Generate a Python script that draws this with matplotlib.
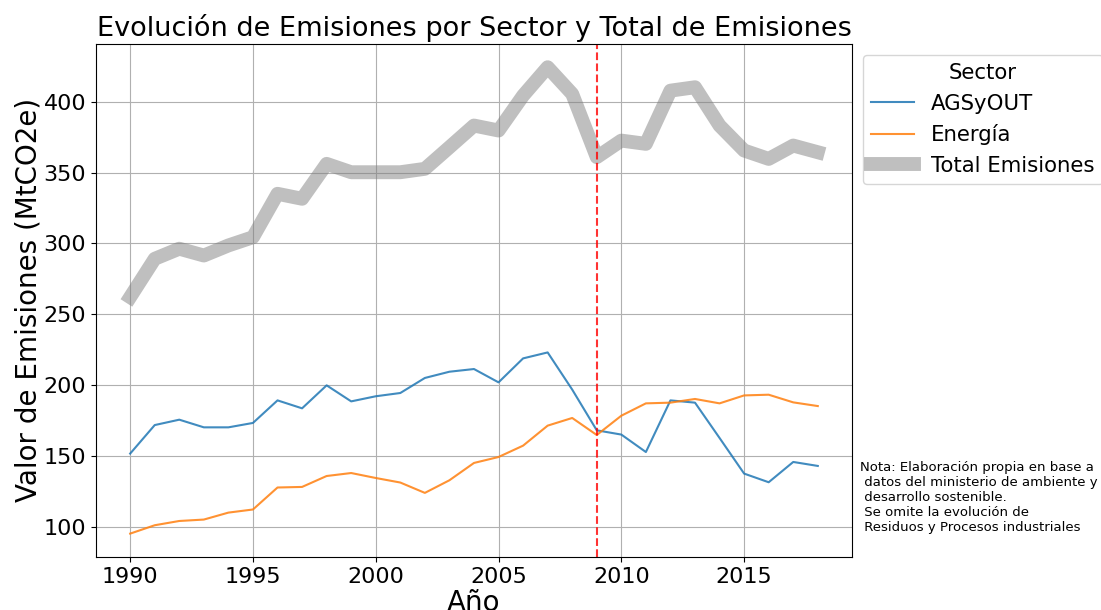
"""
Evolución de emisiones por sector y total (MtCO2e), 1990-2018.
"""
import numpy as np
import matplotlib
matplotlib.use("Agg")
import matplotlib.pyplot as plt

years = list(range(1990, 2019))

agsyout = [151.9, 172.0, 175.8, 170.4, 170.4, 173.5, 189.4, 183.8, 200.0, 188.7,
           192.3, 194.6, 205.2, 209.6, 211.5, 202.1, 219.0, 223.2, 197.0, 168.3,
           165.3, 153.0, 189.4, 187.8, 162.9, 137.8, 131.7, 146.0, 143.2]

energia = [95.5, 101.4, 104.4, 105.4, 110.3, 112.5, 128.0, 128.4, 136.1, 138.2,
           134.7, 131.5, 124.2, 133.1, 145.3, 149.5, 157.5, 171.6, 177.0, 165.0,
           178.6, 187.3, 187.8, 190.4, 187.3, 192.9, 193.4, 188.0, 185.4]

total = [262.2, 289.2, 296.3, 291.5, 298.6, 304.4, 335.0, 331.5, 356.1, 350.2,
         350.2, 350.2, 352.6, 367.8, 383.1, 379.6, 404.2, 424.2, 405.4, 360.8,
         372.5, 370.2, 407.7, 410.1, 383.1, 365.5, 359.6, 369.0, 364.3]

corte = 2009

nota = ("Nota: Elaboración propia en base a\n datos del ministerio de ambiente y\n"
        " desarrollo sostenible.\n Se omite la evolución de\n Residuos y Procesos industriales")

fig = plt.figure(figsize=(11.01, 6.10), dpi=100)
ax = fig.add_axes([0.087, 0.087, 0.687, 0.841])

ax.plot(years, agsyout, color="#1f77b4", lw=1.5, alpha=0.85, label="AGSyOUT")
ax.plot(years, energia, color="#ff7f0e", lw=1.5, alpha=0.85, label="Energía")
ax.plot(years, total, color="gray", lw=10, alpha=0.5, label="Total Emisiones")
ax.axvline(corte, color="red", ls="--", lw=1.5, alpha=0.8)

ax.grid(True)
ax.set_axisbelow(True)
ax.tick_params(labelsize=16)
ax.set_title("Evolución de Emisiones por Sector y Total de Emisiones", fontsize=19.5)
ax.set_xlabel("Año", fontsize=20, labelpad=2)
ax.set_ylabel("Valor de Emisiones (MtCO2e)", fontsize=20, labelpad=1)

ax.legend(title="Sector", fontsize=15.3, title_fontsize=15.3,
          loc="upper left", bbox_to_anchor=(1, 1))

fig.text(0.781, 0.125, nota, fontsize=9.5, va="bottom", ha="left")

fig.savefig("out.png", dpi=100)
